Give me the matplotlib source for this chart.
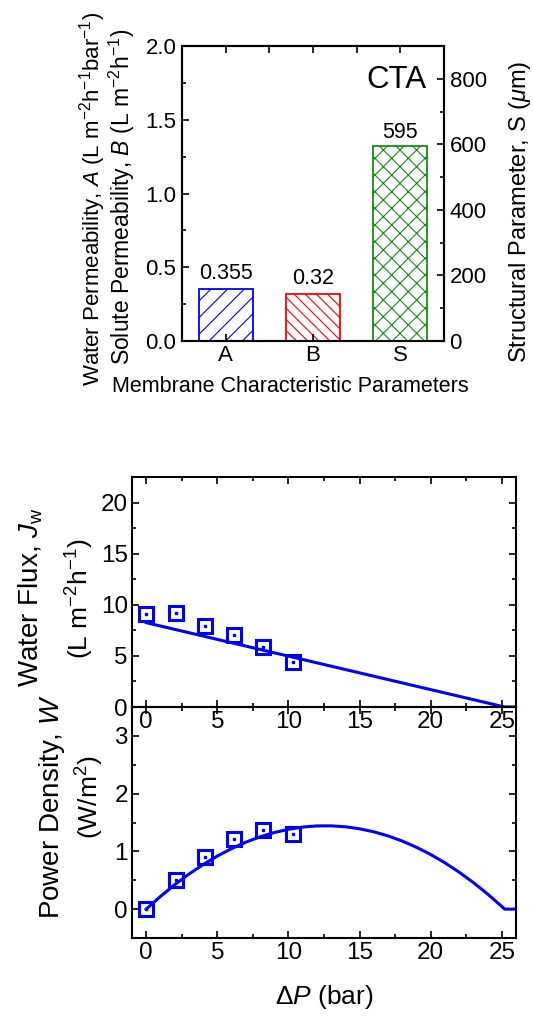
import matplotlib
matplotlib.use("Agg")
import matplotlib.pyplot as plt
from matplotlib.ticker import MultipleLocator, FixedLocator

# ---------------- data ----------------
bar_labels = ["A", "B", "S"]
perm_values = [0.355, 0.32]          # A, B on left axis
s_value = 595                        # S on right axis (µm)
bar_value_text = ["0.355", "0.32", "595"]

dp_data = [0, 2.06, 4.1, 6.15, 8.2, 10.3]
jw_data = [9.09, 9.18, 7.94, 7.06, 5.91, 4.44]
w_data = [0.0, 0.51, 0.91, 1.22, 1.37, 1.30]

dp_jw_line = [0, 25.2, 26]
jw_line = [8.25, 0.0, 0.0]

dp_w_line = [0, 1, 2, 3, 4, 5, 6, 7, 8, 9, 10, 11, 12, 13, 14, 15, 16, 17,
             18, 19, 20, 21, 22, 23, 24, 25, 25.2, 26]
w_line = [0.0, 0.220, 0.422, 0.606, 0.771, 0.919, 1.048, 1.159, 1.251, 1.326,
          1.382, 1.421, 1.441, 1.442, 1.426, 1.391, 1.339, 1.268, 1.179, 1.071,
          0.946, 0.802, 0.640, 0.460, 0.262, 0.046, 0.0, 0.0]

# ---------------- style ----------------
plt.rcParams['font.family'] = ['Liberation Sans', 'DejaVu Sans']
plt.rcParams['mathtext.fontset'] = 'custom'
plt.rcParams['mathtext.rm'] = 'Liberation Sans'
plt.rcParams['mathtext.it'] = 'Liberation Sans:italic'
plt.rcParams['mathtext.bf'] = 'Liberation Sans:bold'
plt.rcParams['hatch.linewidth'] = 0.8
plt.rcParams['axes.linewidth'] = 1.5

W, H = 533, 1016
fig = plt.figure(figsize=(W / 100, H / 100), dpi=100)


def rect(l, t, r, b):
    return [l / W, 1 - b / H, (r - l) / W, (b - t) / H]


def ftext(x, y, s, **kw):
    fig.text(x / W, 1 - y / H, s, **kw)


# ---------------- top bar chart ----------------
ax1 = fig.add_axes(rect(182, 46, 444, 341))
ax2 = ax1.twinx()
ax1.set_xlim(0.5, 3.5)
ax1.set_ylim(0, 2.0)
ax2.set_ylim(0, 900)

bw = 0.62
ax1.bar([1], [perm_values[0]], width=bw, facecolor='white', edgecolor='#0000ff',
        hatch='//', linewidth=1.3)
ax1.bar([2], [perm_values[1]], width=bw, facecolor='white', edgecolor='#ff0000',
        hatch='\\\\\\', linewidth=1.3)
ax2.bar([3], [s_value], width=bw, facecolor='white', edgecolor='#109010',
        hatch='xx', linewidth=1.3)

ax1.annotate(bar_value_text[0], (1, perm_values[0]), xytext=(0, 7),
             textcoords='offset points', ha='center', va='baseline', fontsize=15.5)
ax1.annotate(bar_value_text[1], (2, perm_values[1]), xytext=(0, 7),
             textcoords='offset points', ha='center', va='baseline', fontsize=15.5)
ax2.annotate(bar_value_text[2], (3, s_value), xytext=(0, 6),
             textcoords='offset points', ha='center', va='baseline', fontsize=15.5)

ax1.text(0.935, 0.858, "CTA", transform=ax1.transAxes, ha='right',
         va='baseline', fontsize=22.5)

ax1.set_xticks([1, 2, 3])
ax1.set_xticklabels(bar_labels)
ax1.xaxis.set_minor_locator(FixedLocator([1.5, 2.5]))
ax1.yaxis.set_major_locator(MultipleLocator(0.5))
ax1.yaxis.set_minor_locator(MultipleLocator(0.25))
ax1.yaxis.set_major_formatter(matplotlib.ticker.FormatStrFormatter('%.1f'))
ax1.tick_params(axis='x', which='major', direction='in', top=True, bottom=True,
                length=5, width=1.2, labelsize=16, pad=3)
ax1.tick_params(axis='x', which='minor', direction='in', top=True, bottom=False,
                length=5, width=1.2)
ax1.tick_params(axis='y', which='major', direction='in', left=True, right=False,
                length=5, width=1.2, labelsize=16, pad=4)
ax1.tick_params(axis='y', which='minor', direction='in', left=True, right=False,
                length=3, width=1.2)

ax2.yaxis.set_major_locator(MultipleLocator(200))
ax2.yaxis.set_minor_locator(MultipleLocator(100))
ax2.tick_params(axis='y', which='major', direction='in', length=5, width=1.2,
                labelsize=16, pad=4)
ax2.tick_params(axis='y', which='minor', direction='in', length=3, width=1.2)

ftext(93, 199, r"Water Permeability, $A$ (L m$^{-2}$h$^{-1}$bar$^{-1}$)",
      rotation=90, ha='center', va='center', fontsize=16)
ftext(122, 197, r"Solute Permeability, $B$ (L m$^{-2}$h$^{-1}$)",
      rotation=90, ha='center', va='center', fontsize=16.5)
ftext(520, 212, r"Structural Parameter, S ($\mathit{\mu}$m)",
      rotation=90, ha='center', va='center', fontsize=17)
ftext(290, 386, "Membrane Characteristic Parameters", ha='center', va='center',
      fontsize=15.5)

# ---------------- water flux panel ----------------
blue = '#0000ff'
axj = fig.add_axes(rect(132, 477, 516, 707))
axw = fig.add_axes(rect(132, 707, 516, 938))
axw.patch.set_alpha(0)

for ax in (axj, axw):
    ax.set_xlim(-1, 26)
    ax.xaxis.set_major_locator(MultipleLocator(5))
    ax.xaxis.set_minor_locator(MultipleLocator(2.5))
    ax.tick_params(which='both', direction='in', top=True, right=True, width=1.2)
    ax.tick_params(which='major', length=5, labelsize=17.5, pad=3)
    ax.tick_params(which='minor', length=3)

axj.set_ylim(0, 22.5)
axj.yaxis.set_major_locator(MultipleLocator(5))
axj.yaxis.set_minor_locator(MultipleLocator(2.5))
axj.plot(dp_jw_line, jw_line, color=blue, lw=2.2, zorder=2)
axj.plot(dp_data, jw_data, ls='none', marker='s', ms=10.5, mfc='none', mec=blue,
         mew=2.2, zorder=3, clip_on=False)
axj.plot(dp_data, jw_data, ls='none', marker='s', ms=2, mfc=blue, mec=blue,
         zorder=3)

axw.set_ylim(-0.5, 3.5)
axw.yaxis.set_major_locator(MultipleLocator(1))
axw.yaxis.set_minor_locator(MultipleLocator(0.5))
axw.plot(dp_w_line, w_line, color=blue, lw=2.2, zorder=2)
axw.plot(dp_data, w_data, ls='none', marker='s', ms=10.5, mfc='none', mec=blue,
         mew=2.2, zorder=3, clip_on=False)
axw.plot(dp_data, w_data, ls='none', marker='s', ms=2, mfc=blue, mec=blue,
         zorder=3)

ftext(31, 597, r"Water Flux, $J_\mathrm{w}$", rotation=90, ha='center',
      va='center', fontsize=20)
ftext(80, 599, r"(L m$^{-2}$h$^{-1}$)", rotation=90, ha='center',
      va='center', fontsize=19)
ftext(52, 807, r"Power Density, $W$", rotation=90, ha='center',
      va='center', fontsize=20)
ftext(90, 797, r"(W/m$^2$)", rotation=90, ha='center', va='center',
      fontsize=19)
ftext(324, 997, r"$\Delta P$ (bar)", ha='center', va='center', fontsize=19)

fig.savefig("out.png", dpi=100)
